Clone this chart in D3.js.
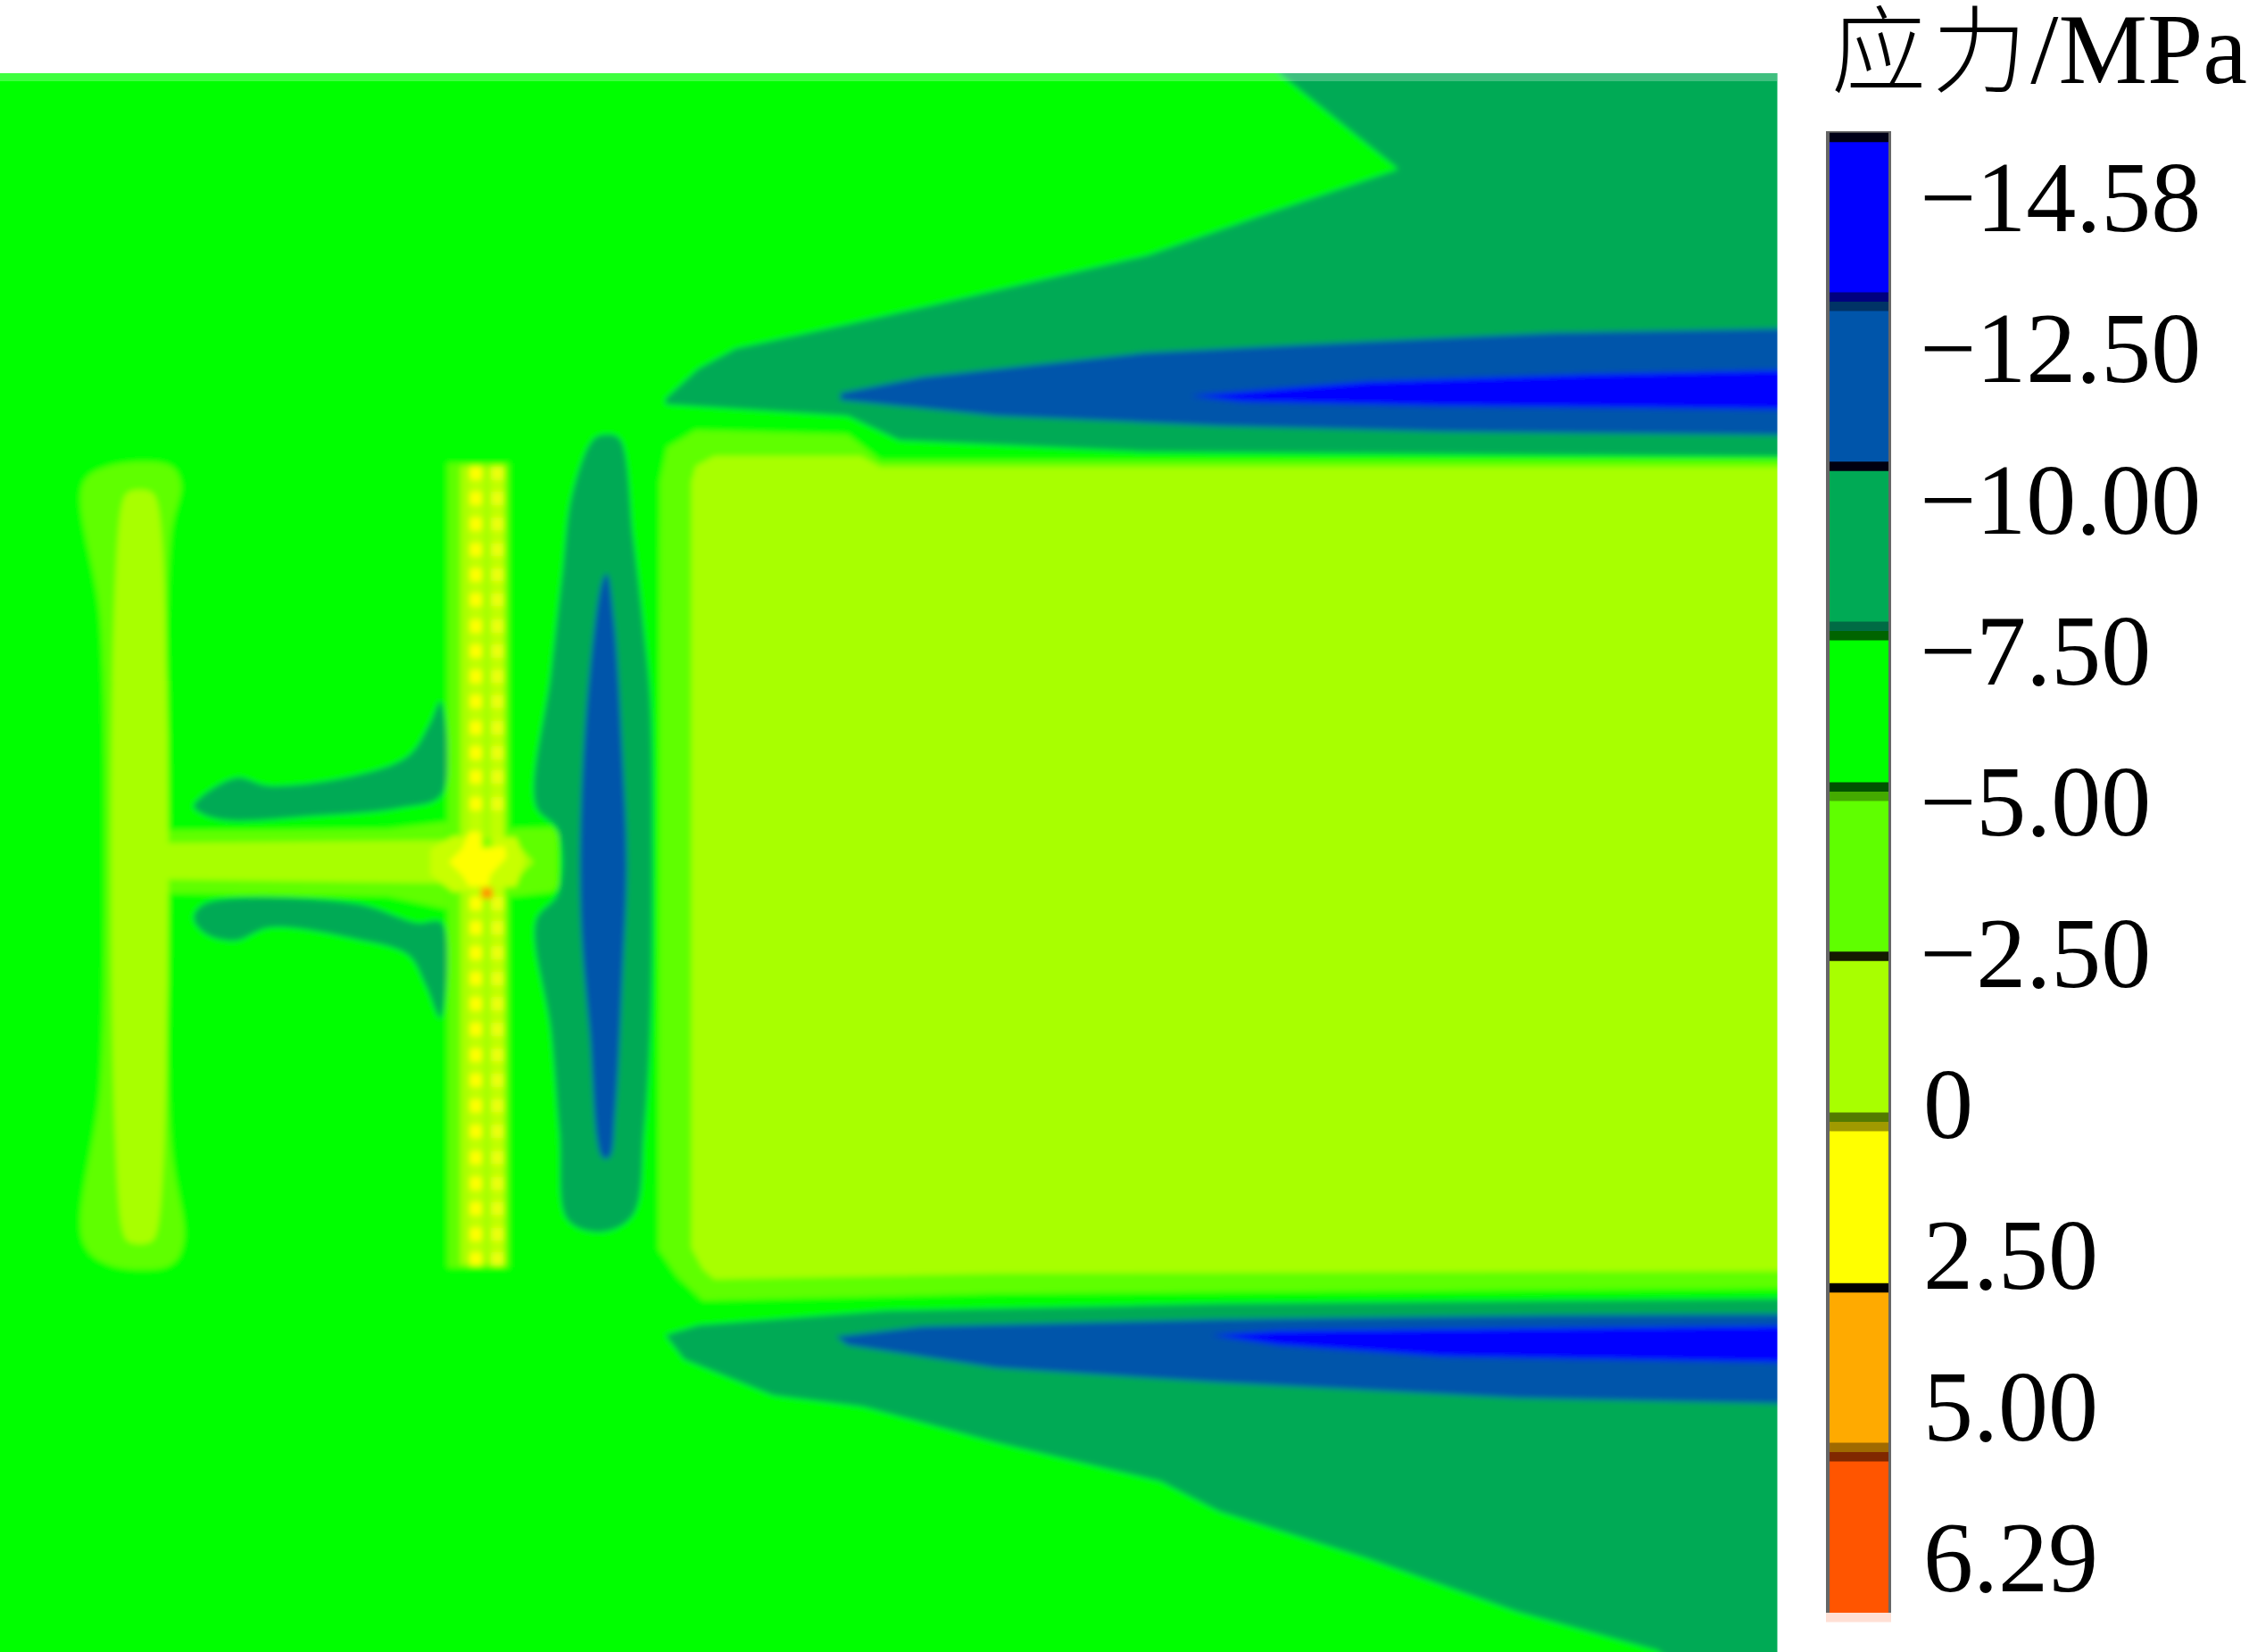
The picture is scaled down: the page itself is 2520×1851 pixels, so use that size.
<!DOCTYPE html>
<html><head><meta charset="utf-8">
<script src="https://cdn.jsdelivr.net/npm/d3@7/dist/d3.min.js"></script>
<style>html,body{margin:0;padding:0;background:#fff}svg{display:block}</style></head>
<body><div id="chart"></div>
<script>
// Legend
const legendTitle = ["应力", "/MPa"];
const legendLabels = ["−14.58","−12.50","−10.00","−7.50","−5.00","−2.50","0","2.50","5.00","6.29"];
const legendColors = ["#0000ff","#0055aa","#00aa55","#00ff00","#5fff00","#a8ff00","#ffff00","#ffaa00","#ff5500"];
const legendSeparators = [["#000018"],["#00007f","#003366"],["#000010"],["#006b44","#006400"],["#005200","#44aa00"],["#141a00"],["#537a00","#a09a00"],["#000000"],["#a06a00","#802800"],["#ffe0d5"]];

// Contour regions (x, y in image units)
const darkUpper = [[893,52],[975,118],[880,150],[800,178],[653,212],[591,226],[513,243],[487,257],[464,278],[464,282],[591,290],[627,307],[798,315],[1300,319],[1300,40],[885,40]];
const darkLower = [[1300,905],[850,909],[617,914],[487,924],[464,931],[477,948],[539,973],[602,981],[695,1006],[809,1033],[850,1054],[954,1087],[1058,1124],[1156,1151],[1170,1165],[1300,1165]];
const blueUpper = [[586,274],[643,263],[798,246],[954,238],[1084,232],[1300,228],[1300,304],[1006,301],[850,297],[695,290],[586,279]];
const blueLower = [[583,932],[643,925],[850,920],[1084,917],[1300,916],[1300,980],[1058,975],[850,964],[695,954],[591,938]];
const brightUpper = [[830,276],[954,266],[1109,261],[1300,257],[1300,286],[1006,283],[866,280]];
const brightLower = [[845,931],[892,928],[1300,924],[1300,951],[1006,946],[892,938]];
const blockOuter = [[460,336],[465,312],[485,300],[591,303],[614,321],[1300,321],[1300,898],[695,902],[490,907],[472,890],[459,871]];
const blockZero = [[482,336],[485,325],[498,318],[600,318],[614,325.6],[1300,325.6],[1300,886],[695,888],[498,892],[490,885],[482,870]];
const lensDark = [[414,306],[423,303],[432,306],[441.5,375],[449,440],[453.5,489],[455,603],[453.5,718],[449,790],[441.5,847],[420,859],[396,851],[390,790],[384,718],[373.6,642],[389,623],[389,579],[373.6,562],[384,470],[392,400],[399,344]];
const lensBlue = [[423,400],[428,432],[434,527],[437,603.5],[434,680],[429,775],[424.8,807],[420,807],[411,718],[405,642],[405,565],[411,470],[420,405]];
const wingUpper = [[135,562],[164,542.5],[188,548],[248.4,540.6],[284.6,527],[299.7,504.4],[307,489],[308,554],[278.6,563.5],[218.3,569],[158,572],[140,567]];
const wingLower = [[135,640],[143,630],[248,630],[290.6,643.5],[308,643.5],[307,710],[296.7,687],[284.6,666],[248.4,655],[188,647],[164,656],[143,651]];
const barOuter = [[58,337],[76,325],[119,325],[126,337],[119,375],[119,794],[128,866],[119,882],[76,882],[58,866],[70,756],[73,603],[70,432]];
const webOuter = [[110,579],[270,578],[312,573],[312,634],[270,625],[110,623]];
const railOuter = [[312,323],[355,323],[355,884],[312,884]];
const hubOuter = [[350,578],[385,577],[389,582],[389,618],[385,622],[350,626]];
const barZero = [[85,352],[90,343],[105,343],[110,352],[110,856],[105,866],[90,866],[85,856]];
const webZero = [[110,588],[320,586],[320,616],[110,613]];
const railZero = [[321,325],[352,325],[352,882],[321,882]];
const hubZero = [[345,585],[360,588],[372,601],[360,613],[345,620]];
const hubGlow = [[300,592],[316,583],[360,584],[366,600],[360,618],[316,622],[300,610]];
const hubYellow = [[313,601],[322,592],[327,580],[335,580],[336,592],[352,590],[353,598],[342,610],[340,618],[327,618],[322,610]];
const hubSpot = [[336,584],[343,584],[343,591],[336,591]];
const hubOrange = [[335.5,619],[343.5,619],[343.5,626.6],[335.5,626.6]];

// Yellow studs along the rail
const studRows = [330,347.5,365.4,383.3,400.8,418.3,436.6,454.1,471.7,489.2,507.5,525,541.8,560.5,630,647,664.5,682.4,700,717.8,735.7,753.3,771.1,789,807.3,825.3,842.8,860.7,878];
const studColumns = [{x0:327.5,x1:336,fill:"#ffff00"},{x0:342.5,x1:351,fill:"#ecff10"}];

const curved = [lensDark,lensBlue,wingUpper,wingLower,barOuter,barZero];
const layers = [
  [darkUpper,"#00aa55"],[darkLower,"#00aa55"],[blueUpper,"#0055aa"],[blueLower,"#0055aa"],
  [brightUpper,"#0000ff"],[brightLower,"#0000ff"],[blockOuter,"#5fff00"],[blockZero,"#a8ff00"],
  [lensDark,"#00aa55"],[lensBlue,"#0055aa"],[wingUpper,"#00aa55"],[wingLower,"#00aa55"],
  [barOuter,"#5fff00"],[webOuter,"#5fff00"],[railOuter,"#5fff00"],[hubOuter,"#5fff00"],
  [barZero,"#a8ff00"],[webZero,"#a8ff00"],[railZero,"#a8ff00"],[hubZero,"#a8ff00"]
];
const topLayers = [[hubGlow,"#c8ff00"],[hubYellow,"#ffff00"],[hubSpot,"#88ff00"],[hubOrange,"#ff9900"]];

const W = 2520, H = 1851;
const x = d3.scaleLinear().domain([0,1568]).range([0,W]);
const y = d3.scaleLinear().domain([0,1152]).range([0,H]);
const sepY = d3.scaleLinear().domain(d3.range(10)).range([154,338,522.5,707,887,1071.5,1257,1443,1627,1812]);
const labelY = d3.scaleLinear().domain([0,9]).range([259,1783]);

const svg = d3.select("#chart").append("svg").attr("width",W).attr("height",H).attr("viewBox",`0 0 ${W} ${H}`);
const defs = svg.append("defs");
defs.append("clipPath").attr("id","plot").append("rect").attr("x",0).attr("y",82).attr("width",1991.5).attr("height",H-82);
defs.append("filter").attr("id","soft").attr("x","-5%").attr("y","-5%").attr("width","110%").attr("height","110%")
    .append("feGaussianBlur").attr("stdDeviation",3);

const straight = d3.line().x(d=>x(d[0])).y(d=>y(d[1])).curve(d3.curveLinearClosed);
const smooth = d3.line().x(d=>x(d[0])).y(d=>y(d[1])).curve(d3.curveCatmullRomClosed.alpha(0.5));
const shape = pts => (curved.includes(pts) ? smooth : straight)(pts);

const plot = svg.append("g").attr("clip-path","url(#plot)");
const soft = plot.append("g").attr("filter","url(#soft)");
soft.append("rect").attr("x",-40).attr("y",40).attr("width",2100).attr("height",H).attr("fill","#00ff00");
soft.selectAll("path.l").data(layers).join("path").attr("class","l").attr("d",d=>shape(d[0])).attr("fill",d=>d[1]);
studColumns.forEach(c=>{
  soft.append("rect").attr("x",x(c.x0)).attr("width",x(c.x1)-x(c.x0))
    .attr("y",y(325)).attr("height",y(882)-y(325)).attr("fill","#c0ff00");
  soft.append("g").selectAll("rect").data(studRows).join("rect")
    .attr("x",x(c.x0)).attr("width",x(c.x1)-x(c.x0))
    .attr("y",d=>y(d-4.5)).attr("height",y(9)).attr("fill",c.fill);
});
soft.selectAll("path.t").data(topLayers).join("path").attr("class","t").attr("d",d=>shape(d[0])).attr("fill",d=>d[1]);
plot.append("rect").attr("x",0).attr("y",82).attr("width",1991.5).attr("height",9).attr("fill","#fff").attr("opacity",0.25);

// Legend bar
const lg = svg.append("g");
lg.append("rect").attr("x",2046).attr("y",147).attr("width",73).attr("height",1660).attr("fill","#666");
lg.selectAll("rect.c").data(legendColors).join("rect").attr("class","c")
  .attr("x",2050).attr("width",66)
  .attr("y",(d,i)=>sepY(i)).attr("height",(d,i)=>sepY(i+1)-sepY(i)).attr("fill",d=>d);
legendSeparators.forEach((cols,i)=>{
  const h = 10.5;
  cols.forEach((c,j)=>{
    lg.append("rect").attr("x",i==9?2046:2050).attr("width",i==9?73:66)
      .attr("y",i==9?1807:(sepY(i)-cols.length*h/2+j*h)).attr("height",h).attr("fill",c);
  });
});
lg.selectAll("text.v").data(legendLabels).join("text").attr("class","v")
  .attr("x",d=>d.startsWith("−")?2151:2155).attr("y",(d,i)=>labelY(i))
  .attr("font-family","'Liberation Serif',serif").attr("font-size",112).attr("fill","#000").text(d=>d);
svg.append("text").attr("x",2052).attr("y",95).attr("font-size",106).attr("letter-spacing",7).attr("fill","#000")
   .attr("font-family","'Noto Sans CJK SC'").attr("font-weight",300).text(legendTitle[0]);
svg.append("text").attr("x",2518).attr("y",93).attr("text-anchor","end").attr("font-size",112).attr("fill","#000")
   .attr("font-family","'Liberation Serif',serif").text(legendTitle[1]);
</script></body></html>
